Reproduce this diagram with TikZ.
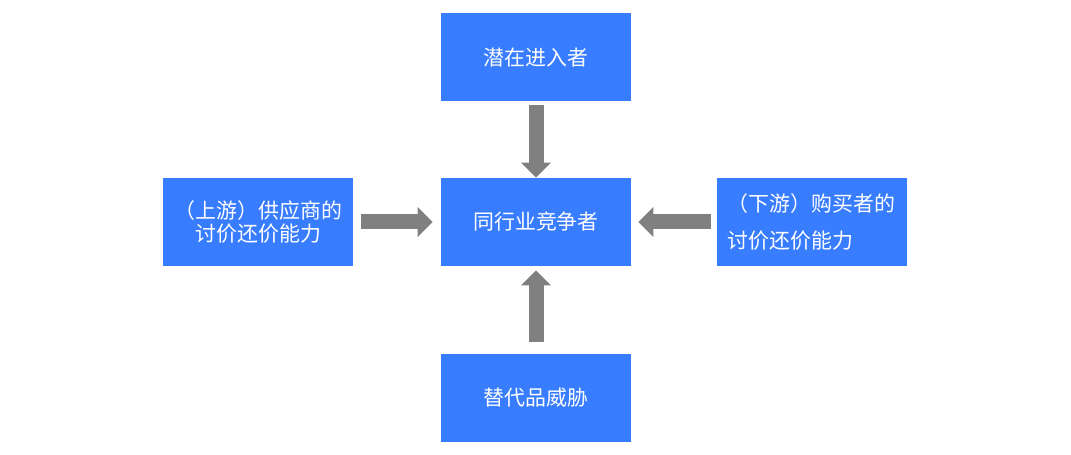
\documentclass[tikz,border=0pt]{standalone}
\usepackage{fontspec}
\setmainfont{Noto Sans CJK SC}
\usepackage{xcolor}
\usetikzlibrary{arrows.meta,positioning}
\definecolor{boxblue}{RGB}{56,124,255}
\definecolor{arrowgray}{RGB}{128,128,128}
\tikzset{
  force/.style={fill=boxblue, text=white, minimum width=3.8cm, minimum height=1.76cm,
                inner sep=0pt, font=\fontsize{11.9pt}{12.8pt}\selectfont},
  push/.style={draw=arrowgray, line width=0.3cm,
               -{Triangle[width=0.58cm, length=0.3cm]}, color=arrowgray}
}

\begin{document}
\begin{tikzpicture}
  \useasboundingbox (-10.72cm,-4.66cm) rectangle (10.70cm,4.44cm);
  % Set up the nodes of the five forces
  % Central node
  \node(rivals)[force] at (0cm, 0cm) {同行业竞争者};
  % Surrounding nodes
  \node[above=1.52cm of rivals] (entrants)[force] {潜在进入者};
  \node[below=1.74cm of rivals] (substitutes)[force] {替代品威胁};
  \node[left=1.74cm of rivals] (suppliers)[force, align=center] {（上游）供应商的\\讨价还价能力};
  \node[right=1.7cm of rivals] (buyers)[force, align=left, text width=3.36cm,
        font=\fontsize{11.9pt}{21pt}\selectfont] {（下游）购买者的\\讨价还价能力};

  % Arrows
  \draw[push, shorten <=0.06cm] (entrants) -- (rivals);
  \draw[push, shorten <=0.22cm, shorten >=0.08cm] (substitutes) -- (rivals);
  \draw[push, shorten <=0.14cm, shorten >=0.16cm] (suppliers) -- (rivals);
  \draw[push, shorten <=0.1cm, shorten >=0.14cm] (buyers) -- (rivals);

\end{tikzpicture}
\end{document}
